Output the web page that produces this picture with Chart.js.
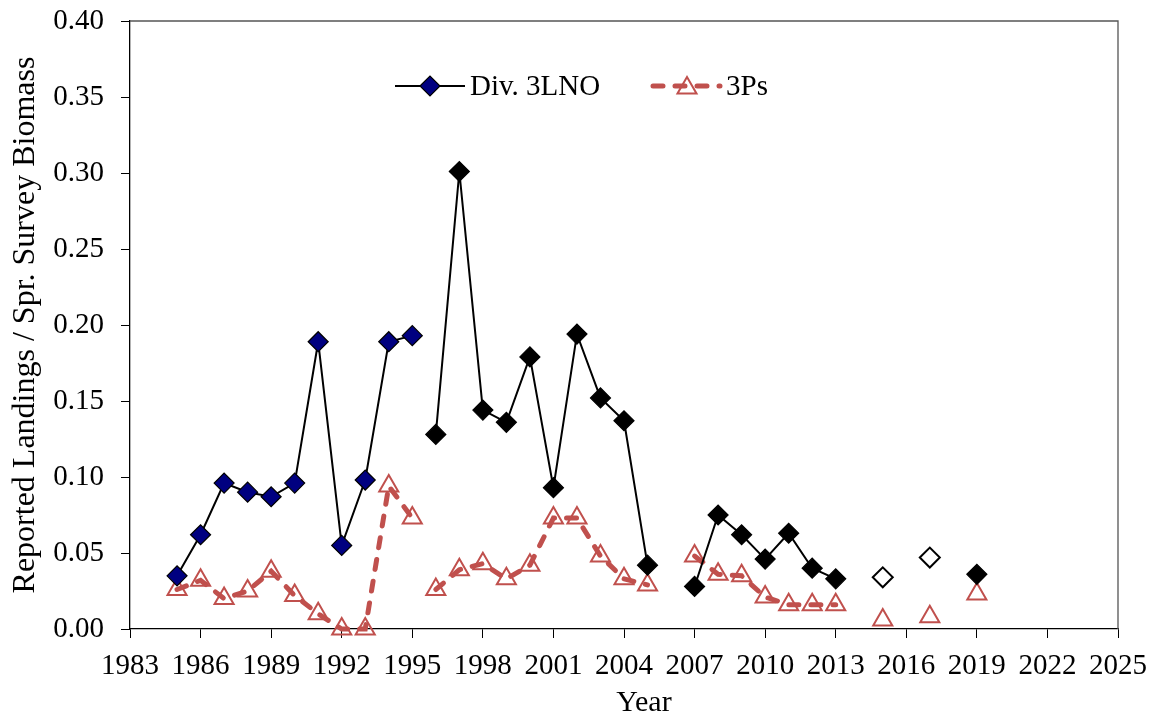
<!DOCTYPE html>
<html>
<head>
<meta charset="utf-8">
<title>Reported Landings / Spr. Survey Biomass</title>
<script src="https://cdn.jsdelivr.net/npm/chart.js@4/dist/chart.umd.min.js"></script>
<style>
  html, body { margin: 0; padding: 0; background: #fff; }
</style>
</head>
<body>
<canvas id="chart-canvas" width="1157" height="717"></canvas>
<script>
// survey years (no 2006, and only every other year after 2013)
const years = [
  1985, 1986, 1987, 1988, 1989, 1990, 1991, 1992, 1993, 1994, 1995,
  1996, 1997, 1998, 1999, 2000, 2001, 2002, 2003, 2004, 2005,
  2007, 2008, 2009, 2010, 2011, 2012, 2013,
  2015, 2017, 2019
]

// landings / spring survey biomass, Div. 3LNO
const div3LNO = [
  0.035, 0.062, 0.096, 0.090, 0.087, 0.096, 0.189, 0.055, 0.098, 0.189, 0.193,
  0.128, 0.301, 0.144, 0.136, 0.179, 0.093, 0.194, 0.152, 0.137, 0.042,
  0.028, 0.075, 0.062, 0.046, 0.063, 0.040, 0.033,
  0.034, 0.047, 0.036
]

// landings / spring survey biomass, Subdiv. 3Ps
const ps3 = [
  0.026, 0.032, 0.020, 0.025, 0.038, 0.022, 0.010, 0.000, 0.000, 0.094, 0.073,
  0.026, 0.039, 0.043, 0.033, 0.042, 0.073, 0.073, 0.048, 0.033, 0.029,
  0.048, 0.036, 0.035, 0.021, 0.016, 0.016, 0.016,
  0.006, 0.008, 0.023
]

// a new joined run starts at each of these years
const runStarts = [1996, 2007, 2015, 2017, 2019]
// Engel trawl years (filled navy) and years with open markers
const lastEngelYear = 1995
const openYears = [2015, 2017]

const yTickStep = 0.05
const xTickStep = 3

const serif = "'Liberation Serif', 'Times New Roman', serif"
const red = '#C0504D'
const navy = '#000080'

const breakAtRun = color => ctx =>
  runStarts.includes(ctx.p1.parsed.x) ? 'rgba(0,0,0,0)' : color

const points = values => years.map((x, i) => ({ x: x, y: values[i] }))

const diamondFill = years.map(y =>
  y <= lastEngelYear ? navy : (openYears.includes(y) ? '#fff' : '#000'))
const diamondBorder = years.map(y => (openYears.includes(y) ? 2 : 1.2))

// plot area frame (top and right edges)
const frame = {
  id: 'frame',
  afterDraw(chart) {
    const { ctx, chartArea: a } = chart
    ctx.save()
    ctx.strokeStyle = '#555'
    ctx.lineWidth = 1.3
    ctx.beginPath()
    ctx.moveTo(a.left, a.top)
    ctx.lineTo(a.right, a.top)
    ctx.lineTo(a.right, a.bottom)
    ctx.stroke()
    ctx.restore()
  }
}

// x axis title, set a little right of the plot centre
const yearTitle = {
  id: 'yearTitle',
  afterDraw(chart) {
    const ctx = chart.ctx
    ctx.save()
    ctx.font = '30px ' + serif
    ctx.fillStyle = '#000'
    ctx.textAlign = 'center'
    ctx.textBaseline = 'alphabetic'
    ctx.fillText('Year', 644, 711)
    ctx.restore()
  }
}

// legend with line + marker samples
const lineLegend = {
  id: 'lineLegend',
  afterDraw(chart) {
    const ctx = chart.ctx
    const y = 86
    ctx.save()
    ctx.font = '29px ' + serif
    ctx.textBaseline = 'middle'
    ctx.fillStyle = '#000'

    ctx.strokeStyle = '#000'
    ctx.lineWidth = 2
    ctx.beginPath()
    ctx.moveTo(395, y)
    ctx.lineTo(465, y)
    ctx.stroke()
    ctx.beginPath()
    ctx.moveTo(420, y)
    ctx.lineTo(430, y - 10)
    ctx.lineTo(440, y)
    ctx.lineTo(430, y + 10)
    ctx.closePath()
    ctx.fillStyle = navy
    ctx.fill()
    ctx.lineWidth = 1.2
    ctx.stroke()
    ctx.fillStyle = '#000'
    ctx.fillText('Div. 3LNO', 470, y + 1)

    ctx.strokeStyle = red
    ctx.lineWidth = 5
    ctx.lineCap = 'round'
    ctx.setLineDash([10, 12])
    ctx.beginPath()
    ctx.moveTo(653, y)
    ctx.lineTo(720, y)
    ctx.stroke()
    ctx.setLineDash([])
    const r = 11
    ctx.lineWidth = 2
    ctx.beginPath()
    ctx.moveTo(687, y - r + 2)
    ctx.lineTo(687 + r * 0.866, y + r / 2 + 2)
    ctx.lineTo(687 - r * 0.866, y + r / 2 + 2)
    ctx.closePath()
    ctx.stroke()
    ctx.fillText('3Ps', 726, y + 1)
    ctx.restore()
  }
}

const ctx = document.querySelector('#chart-canvas')
const chart = new Chart(ctx, {
  type: 'line',
  data: {
    datasets: [
      {
        label: 'Div. 3LNO',
        data: points(div3LNO),
        borderColor: '#000',
        borderWidth: 2,
        pointStyle: 'rectRot',
        pointRadius: 10,
        pointBackgroundColor: diamondFill,
        pointBorderColor: '#000',
        pointBorderWidth: diamondBorder,
        segment: { borderColor: breakAtRun('#000') },
        clip: false,
        order: 1
      },
      {
        label: '3Ps',
        data: points(ps3),
        borderColor: red,
        borderWidth: 5,
        borderDash: [10, 12],
        borderCapStyle: 'round',
        pointStyle: 'triangle',
        pointRadius: 11,
        pointBackgroundColor: 'rgba(0,0,0,0)',
        pointBorderColor: red,
        pointBorderWidth: 2,
        segment: { borderColor: breakAtRun(red) },
        clip: false,
        order: 2
      }
    ]
  },
  options: {
    responsive: false,
    animation: false,
    devicePixelRatio: 1,
    layout: { padding: { top: 21, right: 39, left: 0, bottom: 0 } },
    plugins: {
      legend: { display: false },
      tooltip: { enabled: false }
    },
    elements: { line: { tension: 0 } },
    scales: {
      x: {
        type: 'linear',
        min: 1983,
        max: 2025,
        afterFit: scale => {
          scale.height = 88
          scale.paddingLeft = 0
          scale.paddingRight = 0
        },
        ticks: {
          stepSize: xTickStep,
          color: '#000',
          font: { family: serif, size: 29 },
          padding: 11,
          maxRotation: 0,
          callback: v => String(v)
        },
        grid: {
          drawOnChartArea: false,
          tickLength: 9,
          tickColor: '#000'
        },
        border: { color: '#000', width: 1.3 }
      },
      y: {
        min: 0,
        max: 0.4,
        afterFit: scale => {
          scale.width = 130
          scale.paddingTop = 0
          scale.paddingBottom = 0
        },
        ticks: {
          stepSize: yTickStep,
          color: '#000',
          font: { family: serif, size: 29 },
          padding: 17,
          callback: v => v.toFixed(2)
        },
        grid: {
          drawOnChartArea: false,
          tickLength: 9,
          tickColor: '#000'
        },
        border: { color: '#000', width: 1.3 },
        title: {
          display: true,
          text: 'Reported Landings / Spr. Survey Biomass',
          color: '#000',
          font: { family: serif, size: 32, lineHeight: 1 },
          padding: { top: 10, bottom: 0 }
        }
      }
    }
  },
  plugins: [frame, yearTitle, lineLegend]
})
</script>
</body>
</html>
